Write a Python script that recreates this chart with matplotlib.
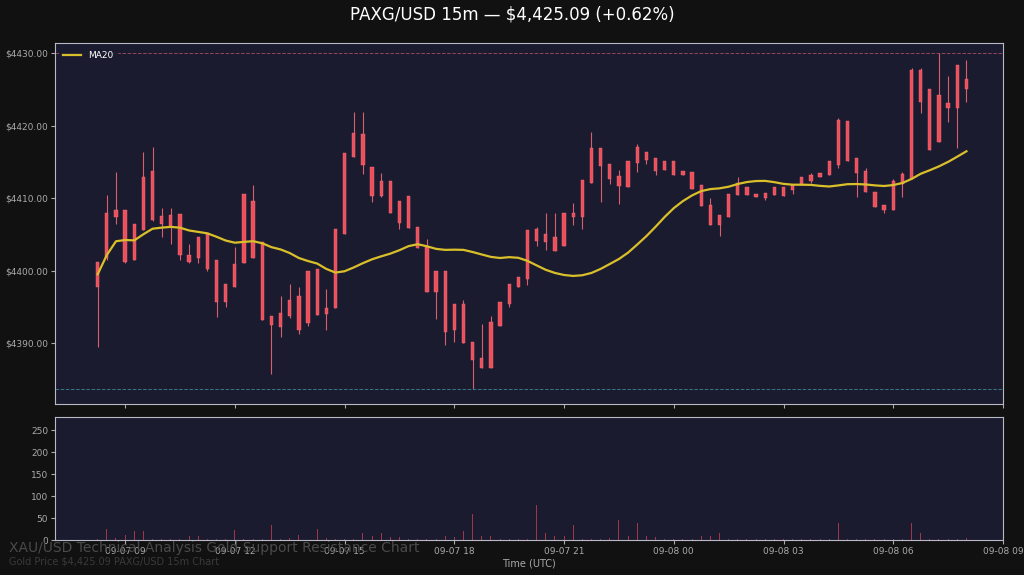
import matplotlib
matplotlib.use("Agg")
import matplotlib.pyplot as plt
import matplotlib.dates as mdates
import numpy as np
import pandas as pd

# candle body tops / bottoms, wick highs / lows (USD)
body_top = [4401.2,4407.9,4408.3,4408.3,4406.5,4412.9,4413.7,4407.5,4407.7,4407.8,
            4402.1,4404.7,4405.2,4401.4,4398.1,4400.9,4410.6,4409.6,4404.0,4393.7,
            4394.2,4396.0,4396.5,4400.0,4400.2,4394.8,4405.7,4416.2,4419.0,4418.9,
            4414.3,4412.4,4412.4,4409.6,4410.3,4406.0,4403.2,4400.0,4400.0,4395.4,
            4395.4,4390.2,4388.0,4392.9,4395.7,4398.1,4399.1,4405.6,4405.7,4405.0,
            4404.7,4407.9,4407.9,4412.5,4416.9,4416.9,4414.7,4413.0,4415.1,4417.0,
            4416.4,4415.6,4415.1,4415.1,4413.8,4413.6,4411.8,4409.0,4407.7,4410.6,
            4412.1,4411.6,4410.6,4410.7,4411.6,4411.5,4411.8,4412.9,4413.2,4413.5,
            4415.1,4420.8,4420.7,4415.6,4413.8,4410.9,4409.0,4412.3,4413.3,4427.7,
            4427.7,4425.0,4424.2,4423.1,4428.3,4426.5]
body_bot = [4397.8,4401.7,4407.4,4401.2,4401.4,4405.6,4407.0,4406.5,4406.0,4402.1,
            4401.2,4401.7,4400.2,4395.7,4395.7,4397.8,4401.0,4401.7,4393.2,4392.5,
            4392.2,4393.7,4391.8,4392.8,4393.9,4394.0,4394.8,4405.1,4415.7,4414.6,
            4410.3,4410.3,4408.0,4406.6,4405.9,4403.1,4397.1,4397.1,4391.6,4391.8,
            4390.0,4387.7,4386.6,4386.6,4392.3,4395.4,4397.8,4398.8,4404.1,4404.0,
            4402.7,4403.4,4407.4,4407.4,4412.1,4414.4,4412.7,4411.7,4411.6,4414.8,
            4415.3,4413.8,4413.9,4413.2,4413.2,4411.2,4408.9,4406.3,4406.3,4407.4,
            4410.4,4410.4,4410.2,4410.0,4410.4,4410.3,4411.1,4411.8,4412.4,4412.9,
            4413.2,4414.6,4415.1,4413.4,4410.9,4408.8,4408.3,4408.3,4412.0,4412.7,
            4423.3,4416.7,4417.8,4422.4,4422.4,4425.0]
high = [4401.2,4410.4,4413.6,4408.3,4406.5,4416.4,4417.0,4408.6,4408.6,4407.8,
        4403.7,4404.7,4405.2,4401.4,4398.1,4403.3,4410.6,4411.8,4404.0,4393.7,
        4396.5,4398.1,4397.7,4400.0,4400.2,4397.4,4405.7,4416.2,4421.9,4421.9,
        4414.3,4413.4,4412.4,4409.6,4410.3,4406.0,4404.4,4400.0,4400.0,4395.4,
        4395.9,4390.2,4392.7,4393.7,4395.7,4398.1,4399.1,4405.6,4406.0,4408.0,
        4408.0,4407.9,4409.3,4412.5,4419.1,4416.9,4414.7,4413.9,4415.1,4417.5,
        4416.4,4415.6,4415.1,4415.1,4413.8,4413.6,4411.8,4410.0,4407.7,4410.6,
        4412.9,4411.6,4410.6,4410.7,4411.6,4411.5,4411.8,4412.9,4413.5,4413.5,
        4415.1,4421.1,4420.7,4415.6,4414.1,4410.9,4409.0,4412.6,4413.6,4427.9,
        4427.9,4425.0,4430.0,4426.8,4428.3,4429.0]
low = [4389.5,4401.4,4406.5,4401.0,4401.4,4405.6,4406.8,4404.7,4403.7,4401.4,
       4401.0,4401.1,4400.0,4393.6,4395.0,4397.8,4401.0,4401.7,4393.2,4385.8,
       4390.9,4393.4,4391.3,4392.3,4393.9,4391.8,4394.8,4405.1,4415.7,4413.3,
       4409.5,4410.2,4408.0,4405.7,4405.9,4403.1,4397.1,4393.3,4389.7,4390.2,
       4390.0,4383.7,4386.6,4386.6,4392.3,4395.0,4397.8,4398.0,4403.4,4402.8,
       4402.7,4403.4,4406.3,4405.8,4412.1,4409.5,4412.0,4409.2,4411.6,4413.6,
       4414.7,4413.2,4413.9,4413.2,4413.2,4411.2,4408.9,4406.3,4404.8,4407.4,
       4410.4,4410.4,4410.2,4409.8,4410.4,4410.3,4410.6,4411.8,4412.1,4412.9,
       4413.2,4414.2,4415.1,4410.1,4410.9,4408.8,4407.9,4408.3,4410.1,4412.7,
       4421.7,4416.7,4417.8,4420.5,4416.9,4423.3]
volume = [3,25,4,12,20,20,3,2,3,2,8,8,3,2,3,22,3,2,3,35,
          3,4,12,20,25,4,3,2,3,15,8,15,6,6,3,2,3,2,10,6,
          20,60,10,10,3,2,3,2,80,15,8,10,35,3,2,3,4,45,10,38,
          8,6,3,2,2,3,8,8,15,3,2,2,3,2,3,2,2,3,2,2,
          3,38,3,2,3,2,2,3,2,38,15,3,2,2,3,5]

title = "PAXG/USD 15m — $4,425.09 (+0.62%)"
resistance = 4430.0
support = 4383.7

times = pd.date_range("2025-09-07 08:15", periods=len(body_top), freq="15min")
x = mdates.date2num(times.to_pydatetime())
mid = (np.array(body_top) + np.array(body_bot)) / 2
ma20 = pd.Series(mid).rolling(20, min_periods=1).mean()

BG = "#111111"; AX = "#1b1b2f"; SP = "#b8b8c8"; TX = "#aaaaaa"
fig = plt.figure(figsize=(10.24, 5.75), dpi=100, facecolor=BG)
ax = fig.add_axes([55/1024, 1-404/575, 948/1024, 361/575], facecolor=AX)
axv = fig.add_axes([55/1024, 1-540/575, 948/1024, 123/575], facecolor=AX, sharex=ax)

w = 0.36 * (15/1440)
for i in range(len(x)):
    ax.vlines(x[i], low[i], high[i], color="#d8606e", lw=0.8, zorder=2)
    ax.bar(x[i], body_top[i]-body_bot[i], bottom=body_bot[i], width=w,
           color="#ef4f5a", edgecolor="#f07080", lw=0.3, zorder=3)
ax.plot(x, ma20, color="#d9bf2a", lw=1.6, label="MA20", zorder=4)
ax.axhline(resistance, color="#a04a60", ls="--", lw=0.7, alpha=0.9)
ax.axhline(support, color="#3a8090", ls="--", lw=0.7, alpha=0.9)

axv.bar(x, volume, width=w*0.3, color="#c04050", alpha=0.8)

start = mdates.date2num(pd.Timestamp("2025-09-07 07:05").to_pydatetime())
end = mdates.date2num(pd.Timestamp("2025-09-08 09:00").to_pydatetime())
ax.set_xlim(start, end)
ax.set_ylim(4381.6, 4431.4)
ax.set_yticks([4390, 4400, 4410, 4420, 4430])
ax.yaxis.set_major_formatter(matplotlib.ticker.FuncFormatter(lambda v, p: f"${v:.2f}"))
axv.set_ylim(0, 280)
axv.set_yticks([0, 50, 100, 150, 200, 250])
axv.xaxis.set_major_locator(mdates.HourLocator(byhour=range(0, 24, 3)))
axv.xaxis.set_major_formatter(mdates.DateFormatter("%m-%d %H"))
plt.setp(ax.get_xticklabels(), visible=False)
for a in (ax, axv):
    a.tick_params(colors=TX, labelsize=6.5, length=3, pad=2)
    for s in a.spines.values():
        s.set_color(SP)
axv.set_xlabel("Time (UTC)", color=TX, fontsize=7, labelpad=2)

ax.legend(loc="upper left", fontsize=6.5, facecolor=AX, edgecolor=AX,
          labelcolor="white", framealpha=0.9)

fig.text(0.5, 1-14/575, title, ha="center", va="center", color="white", fontsize=12)
fig.text(9/1024, 1-548/575, "XAU/USD Technical Analysis Gold Support Resistance Chart",
         color="#4a4a4a", fontsize=10, va="center")
fig.text(9/1024, 1-562/575, "Gold Price $4,425.09 PAXG/USD 15m Chart",
         color="#3a3a3a", fontsize=7, va="center")

fig.savefig("out.png", dpi=100, facecolor=BG)
